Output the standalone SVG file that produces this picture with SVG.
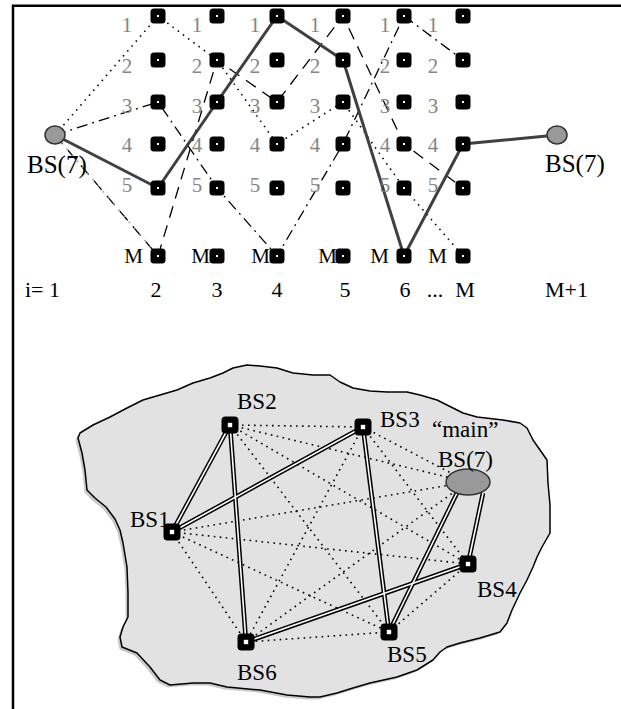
<svg xmlns="http://www.w3.org/2000/svg" xmlns:xlink="http://www.w3.org/1999/xlink" width="621" height="709" viewBox="0 0 621 709">
<style>
text{font-family:"Liberation Serif","Times New Roman",serif;fill:#000}
.lbl{font-size:22px}
.big{font-size:25px}
.nl{font-size:23px}
.gl{font-size:21px;fill:#858585;text-anchor:middle}
.ml{font-size:21px;text-anchor:end}
.mid{text-anchor:middle}
.frame{stroke:#000;stroke-width:2.5;fill:none}
.solid{stroke:#404040;stroke-width:3;fill:none;stroke-linejoin:round;stroke-linecap:round}
.dot{stroke:#000;stroke-width:1.6;fill:none;stroke-dasharray:1.5 5;stroke-linejoin:round}
.dashdot{stroke:#000;stroke-width:1.3;fill:none;stroke-dasharray:11 5 2 5;stroke-linejoin:round}
.dash{stroke:#000;stroke-width:1.3;fill:none;stroke-dasharray:12 8;stroke-linejoin:round}
.gdot{stroke:#9a9a9a;stroke-width:1.6;fill:none;stroke-dasharray:1.5 6.5}
.bdot{stroke:#000;stroke-width:1.6;fill:none;stroke-dasharray:1.6 4.4}
.dblo{stroke:#000;stroke-width:4.6;fill:none}
.dbli{stroke:#fff;stroke-width:1.6;fill:none}
.bs{fill:#999;stroke:#333;stroke-width:1.5}
</style>
<defs>
<g id="tq"><rect x="-7.5" y="-7.5" width="15" height="15" rx="3.5" fill="#000"/><rect x="-1" y="-1" width="2" height="2" fill="#fff"/></g>
<g id="bq"><rect x="-8.5" y="-8.5" width="17" height="17" rx="4" fill="#000"/><rect x="-2.2" y="-2.2" width="4.4" height="4.4" fill="#fff"/></g>
</defs>

<path class="frame" d="M13,709 V5.8 H621"/>

<!-- top panel connectors -->
<g id="trellis-connectors">
<path class="dot" d="M55,135 L158,16 L217,60 L277,144 L343,102 L404,188 L463,256"/>
<path class="dashdot" d="M55,135 L158,102 L217,188 L277,256 L343,144 L404,16 L463,60"/>
<path class="dash" d="M158,256 L217,60 L277,102 L343,16 L404,144 L463,188"/>
<path class="dash" d="M55,135 L158,256" stroke-dasharray="14 9"/>
<path class="gdot" d="M55,135 L158,256" stroke-dashoffset="-18"/>
<path class="solid" d="M55,135 L158,188 L217,102 L277,16 L343,60 L404,256 L463,144 L557,135"/>
</g>

<!-- top panel nodes -->
<g id="bs-left"><ellipse class="bs" cx="55" cy="135" rx="10" ry="9"/><text class="big" x="27" y="173">BS(7)</text></g>
<g id="bs-right"><ellipse class="bs" cx="557" cy="135" rx="10" ry="9"/><text class="big" x="545" y="172">BS(7)</text></g>

<g id="c2-1"><use xlink:href="#tq" x="158" y="16"/><text class="gl" x="127" y="32">1</text></g>
<g id="c2-2"><use xlink:href="#tq" x="158" y="60"/><text class="gl" x="127" y="73">2</text></g>
<g id="c2-3"><use xlink:href="#tq" x="158" y="102"/><text class="gl" x="127" y="113">3</text></g>
<g id="c2-4"><use xlink:href="#tq" x="158" y="144"/><text class="gl" x="127" y="152">4</text></g>
<g id="c2-5"><use xlink:href="#tq" x="158" y="188"/><text class="gl" x="127" y="192">5</text></g>
<g id="c2-M"><use xlink:href="#tq" x="158" y="256"/><text class="ml" x="143" y="263">M</text></g>

<g id="c3-1"><use xlink:href="#tq" x="217" y="16"/><text class="gl" x="197" y="32">1</text></g>
<g id="c3-2"><use xlink:href="#tq" x="217" y="60"/><text class="gl" x="197" y="73">2</text></g>
<g id="c3-3"><use xlink:href="#tq" x="217" y="102"/><text class="gl" x="197" y="113">3</text></g>
<g id="c3-4"><use xlink:href="#tq" x="217" y="144"/><text class="gl" x="197" y="152">4</text></g>
<g id="c3-5"><use xlink:href="#tq" x="217" y="188"/><text class="gl" x="197" y="192">5</text></g>
<g id="c3-M"><use xlink:href="#tq" x="217" y="256"/><text class="ml" x="210" y="263">M</text></g>

<g id="c4-1"><use xlink:href="#tq" x="277" y="16"/><text class="gl" x="255" y="32">1</text></g>
<g id="c4-2"><use xlink:href="#tq" x="277" y="60"/><text class="gl" x="255" y="73">2</text></g>
<g id="c4-3"><use xlink:href="#tq" x="277" y="102"/><text class="gl" x="255" y="113">3</text></g>
<g id="c4-4"><use xlink:href="#tq" x="277" y="144"/><text class="gl" x="255" y="152">4</text></g>
<g id="c4-5"><use xlink:href="#tq" x="277" y="188"/><text class="gl" x="255" y="192">5</text></g>
<g id="c4-M"><use xlink:href="#tq" x="277" y="256"/><text class="ml" x="270" y="263">M</text></g>

<g id="c5-1"><use xlink:href="#tq" x="343" y="16"/><text class="gl" x="315" y="32">1</text></g>
<g id="c5-2"><use xlink:href="#tq" x="343" y="60"/><text class="gl" x="315" y="73">2</text></g>
<g id="c5-3"><use xlink:href="#tq" x="343" y="102"/><text class="gl" x="315" y="113">3</text></g>
<g id="c5-4"><use xlink:href="#tq" x="343" y="144"/><text class="gl" x="315" y="152">4</text></g>
<g id="c5-5"><use xlink:href="#tq" x="343" y="188"/><text class="gl" x="315" y="192">5</text></g>
<g id="c5-M"><use xlink:href="#tq" x="343" y="256"/><text class="ml" x="337" y="263">M</text></g>

<g id="c6-1"><use xlink:href="#tq" x="404" y="16"/><text class="gl" x="385" y="32">1</text></g>
<g id="c6-2"><use xlink:href="#tq" x="404" y="60"/><text class="gl" x="385" y="73">2</text></g>
<g id="c6-3"><use xlink:href="#tq" x="404" y="102"/><text class="gl" x="385" y="113">3</text></g>
<g id="c6-4"><use xlink:href="#tq" x="404" y="144"/><text class="gl" x="385" y="152">4</text></g>
<g id="c6-5"><use xlink:href="#tq" x="404" y="188"/><text class="gl" x="385" y="192">5</text></g>
<g id="c6-M"><use xlink:href="#tq" x="404" y="256"/><text class="ml" x="389" y="263">M</text></g>

<g id="cM-1"><use xlink:href="#tq" x="463" y="16"/><text class="gl" x="433" y="32">1</text></g>
<g id="cM-2"><use xlink:href="#tq" x="463" y="60"/><text class="gl" x="433" y="73">2</text></g>
<g id="cM-3"><use xlink:href="#tq" x="463" y="102"/><text class="gl" x="433" y="113">3</text></g>
<g id="cM-4"><use xlink:href="#tq" x="463" y="144"/><text class="gl" x="433" y="152">4</text></g>
<g id="cM-5"><use xlink:href="#tq" x="463" y="188"/><text class="gl" x="433" y="192">5</text></g>
<g id="cM-M"><use xlink:href="#tq" x="463" y="256"/><text class="ml" x="447" y="263">M</text></g>

<g id="stage-labels">
<text class="lbl" x="25" y="297">i= 1</text>
<text class="lbl mid" x="156" y="297">2</text>
<text class="lbl mid" x="217" y="297">3</text>
<text class="lbl mid" x="277" y="297">4</text>
<text class="lbl mid" x="345" y="297">5</text>
<text class="lbl mid" x="405" y="297">6</text>
<text class="lbl mid" x="435" y="297">...</text>
<text class="lbl mid" x="465" y="297">M</text>
<text class="lbl" x="545" y="297">M+1</text>
</g>

<!-- bottom panel: area -->
<g id="area">
<path transform="translate(-2.5,2.5)" fill="#c9c9c9" d="M78,438 L80,433 L93,425 L110,417 L127,408 L143,400 L160,395 L177,390 L193,383 L210,378 L223,373 L233,368 L247,365 L260,366 L277,368 L293,373 L313,375 L330,375 L340,382 L353,388 L370,391 L387,392 L407,392 L420,395 L437,400 L453,408 L463,413 L477,417 L503,420 L520,423 L527,428 L533,440 L540,450 L547,460 L548,483 L550,505 L550,533 L542,547 L537,557 L533,567 L527,580 L520,593 L512,610 L507,623 L500,632 L480,638 L460,643 L447,647 L440,652 L433,660 L417,670 L397,677 L370,683 L353,688 L337,693 L320,697 L310,697 L287,695 L260,690 L227,687 L210,683 L193,683 L170,685 L160,680 L150,667 L137,653 L122,647 L120,637 L123,627 L128,617 L128,593 L127,567 L123,543 L120,530 L115,519 L106,507 L95,498 L87,490 L85,470 L82,453 Z"/>
<path fill="#e2e2e2" stroke="#000" stroke-width="1.5" stroke-linejoin="round" d="M78,438 L80,433 L93,425 L110,417 L127,408 L143,400 L160,395 L177,390 L193,383 L210,378 L223,373 L233,368 L247,365 L260,366 L277,368 L293,373 L313,375 L330,375 L340,382 L353,388 L370,391 L387,392 L407,392 L420,395 L437,400 L453,408 L463,413 L477,417 L503,420 L520,423 L527,428 L533,440 L540,450 L547,460 L548,483 L550,505 L550,533 L542,547 L537,557 L533,567 L527,580 L520,593 L512,610 L507,623 L500,632 L480,638 L460,643 L447,647 L440,652 L433,660 L417,670 L397,677 L370,683 L353,688 L337,693 L320,697 L310,697 L287,695 L260,690 L227,687 L210,683 L193,683 L170,685 L160,680 L150,667 L137,653 L122,647 L120,637 L123,627 L128,617 L128,593 L127,567 L123,543 L120,530 L115,519 L106,507 L95,498 L87,490 L85,470 L82,453 Z"/>
</g>

<!-- bottom panel connectors -->
<g id="network-connectors">
<g class="bdot">
<path d="M172,532 L468,564"/>
<path d="M172,532 L389,632"/>
<path d="M172,532 L246,642"/>
<path d="M172,532 L468,482"/>
<path d="M230,425 L363,427"/>
<path d="M230,425 L468,564"/>
<path d="M230,425 L389,632"/>
<path d="M230,425 L468,482"/>
<path d="M363,427 L468,564"/>
<path d="M363,427 L246,642"/>
<path d="M363,427 L468,482"/>
<path d="M468,564 L389,632"/>
<path d="M389,632 L246,642"/>
<path d="M246,642 L468,482"/>
</g>
<g class="dblo">
<path d="M230,425 L172,532"/>
<path d="M230,425 L246,642"/>
<path d="M172,532 L363,427"/>
<path d="M363,427 L389,632"/>
<path d="M246,642 L468,564"/>
<path d="M483,493 L468,564"/>
<path d="M457,493 L389,632"/>
</g>
<g class="dbli">
<path d="M230,425 L172,532"/>
<path d="M230,425 L246,642"/>
<path d="M172,532 L363,427"/>
<path d="M363,427 L389,632"/>
<path d="M246,642 L468,564"/>
<path d="M483,493 L468,564"/>
<path d="M457,493 L389,632"/>
</g>
</g>

<!-- bottom panel nodes -->
<g id="BS1"><use xlink:href="#bq" x="172" y="532"/><text class="nl" x="130" y="527">BS1</text></g>
<g id="BS2"><use xlink:href="#bq" x="230" y="425"/><text class="nl" x="237" y="409">BS2</text></g>
<g id="BS3"><use xlink:href="#bq" x="363" y="427"/><text class="nl" x="380" y="427">BS3</text></g>
<g id="BS4"><use xlink:href="#bq" x="468" y="564"/><text class="nl" x="477" y="597">BS4</text></g>
<g id="BS5"><use xlink:href="#bq" x="389" y="632"/><text class="nl" x="387" y="662">BS5</text></g>
<g id="BS6"><use xlink:href="#bq" x="246" y="642"/><text class="nl" x="237" y="680">BS6</text></g>
<g id="BS7"><ellipse class="bs" cx="468" cy="482" rx="22" ry="13"/><text class="nl" x="432" y="437">“main”</text><text class="nl" x="438" y="467">BS(7)</text></g>
</svg>
